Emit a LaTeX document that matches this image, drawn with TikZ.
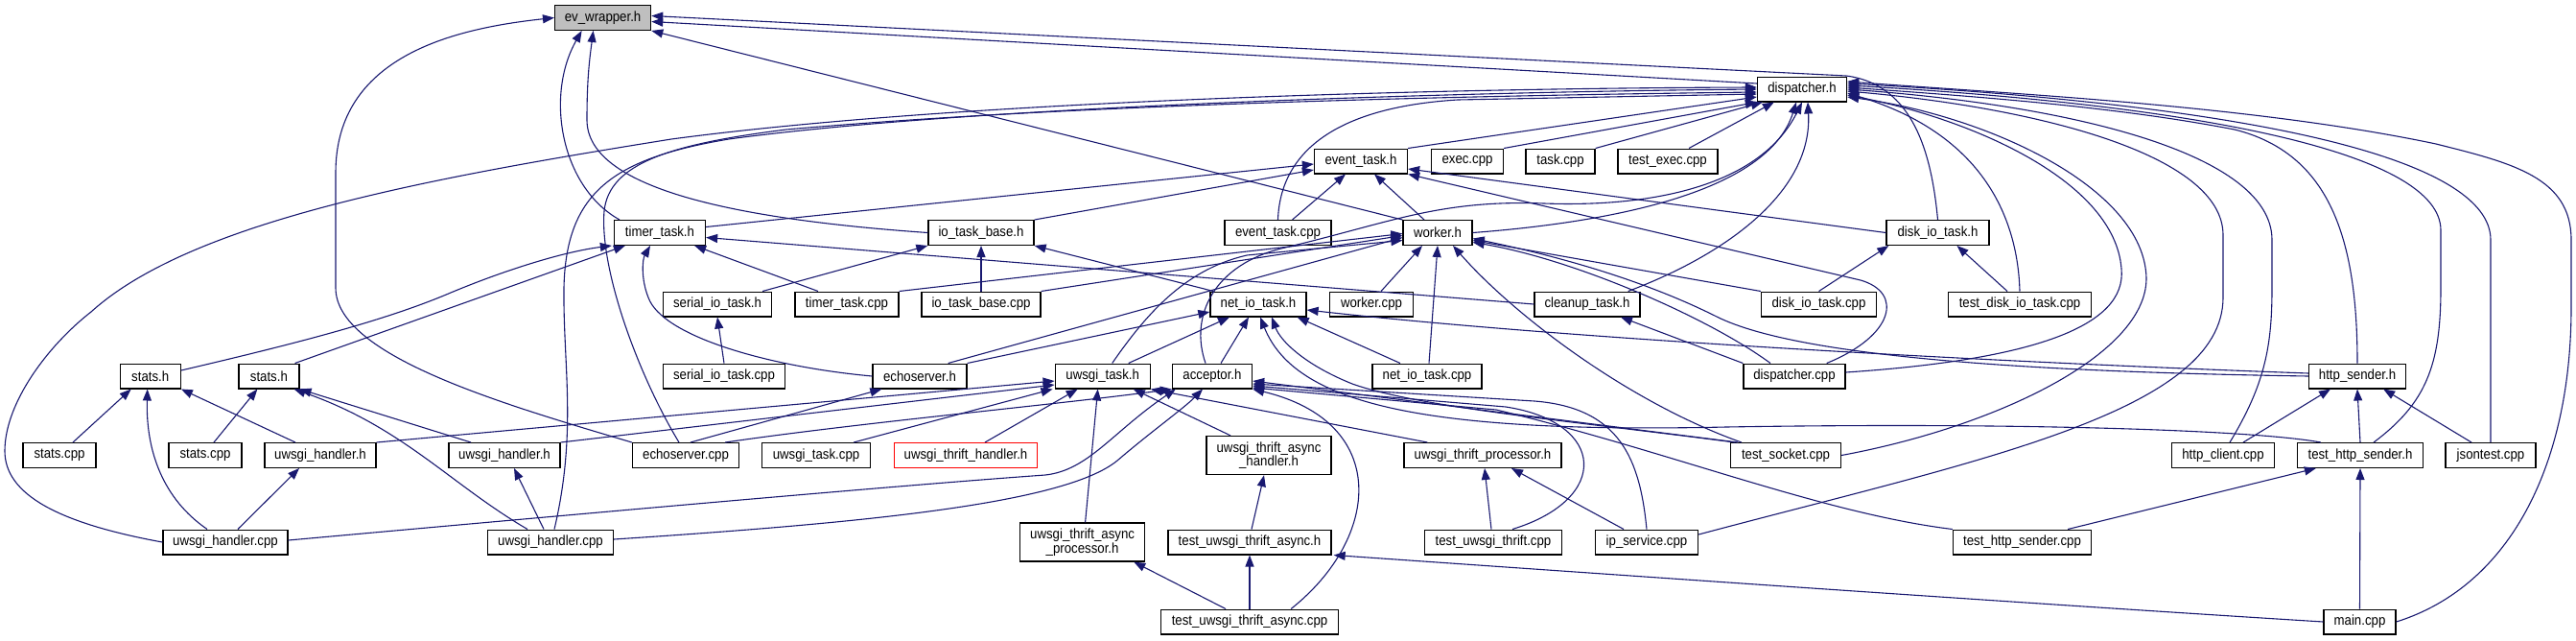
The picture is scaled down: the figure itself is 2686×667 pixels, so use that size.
\documentclass[tikz,border=0pt]{standalone}
\usepackage{fontspec}
\setmainfont{Liberation Sans}[FakeStretch=0.9]
\usetikzlibrary{arrows.meta,calc}
\definecolor{edgec}{RGB}{25,25,112}
\definecolor{hlgray}{RGB}{191,191,191}
\begin{document}
\begin{tikzpicture}[x=1pt,y=-1pt,
  box/.style={draw=black, line width=1.3pt, fill=white, rectangle, inner sep=0pt,
    minimum height=25.7pt, align=center, font=\fontsize{14.7}{13.5}\selectfont},
  dep/.style={draw=edgec, line width=1.1pt, -{Triangle[length=12pt,width=9pt]}}]
\path[use as bounding box] (0,0) rectangle (2686,667);
% ---- nodes
\node[box, fill=hlgray, minimum width=100] (ev) at (628.6,18.5) {ev\_wrapper.h};
\node[box, minimum width=93] (disp) at (1879,93) {dispatcher.h};
\node[box, minimum width=97] (evth) at (1419,168) {event\_task.h};
\node[box, minimum width=75] (execc) at (1530,168) {exec.cpp};
\node[box, minimum width=72] (taskc) at (1627,168) {task.cpp};
\node[box, minimum width=104] (texec) at (1739,168) {test\_exec.cpp};
\node[box, minimum width=95] (timerh) at (688,242.5) {timer\_task.h};
\node[box, minimum width=110] (iobh) at (1023,242.5) {io\_task\_base.h};
\node[box, minimum width=111] (evtc) at (1332.5,242.5) {event\_task.cpp};
\node[box, minimum width=72] (workh) at (1499,242.5) {worker.h};
\node[box, minimum width=107] (diskh) at (2020.5,242.5) {disk\_io\_task.h};
\node[box, minimum width=113] (serialh) at (748,317) {serial\_io\_task.h};
\node[box, minimum width=108] (timerc) at (883,317) {timer\_task.cpp};
\node[box, minimum width=124] (iobc) at (1023,317) {io\_task\_base.cpp};
\node[box, minimum width=100] (neth) at (1312,317) {net\_io\_task.h};
\node[box, minimum width=87] (workc) at (1430,317) {worker.cpp};
\node[box, minimum width=110] (cleanh) at (1655,317) {cleanup\_task.h};
\node[box, minimum width=120] (diskc) at (1896.5,317) {disk\_io\_task.cpp};
\node[box, minimum width=149] (tdiskc) at (2106,317) {test\_disk\_io\_task.cpp};
\node[box, minimum width=63] (statsA) at (156.7,392) {stats.h};
\node[box, minimum width=63] (statsB) at (280.4,392) {stats.h};
\node[box, minimum width=127] (serialc) at (755,392) {serial\_io\_task.cpp};
\node[box, minimum width=98] (echoh) at (959,392) {echoserver.h};
\node[box, minimum width=99] (uwtaskh) at (1149.7,392) {uwsgi\_task.h};
\node[box, minimum width=83] (acch) at (1264,392) {acceptor.h};
\node[box, minimum width=114] (netc) at (1488,392) {net\_io\_task.cpp};
\node[box, minimum width=106] (dispc) at (1871,392) {dispatcher.cpp};
\node[box, minimum width=101] (httph) at (2458,392) {http\_sender.h};
\node[box, minimum width=76] (statscA) at (62,474.5) {stats.cpp};
\node[box, minimum width=76] (statscB) at (214,474.5) {stats.cpp};
\node[box, minimum width=116] (uwhA) at (334,474.5) {uwsgi\_handler.h};
\node[box, minimum width=116] (uwhB) at (526,474.5) {uwsgi\_handler.h};
\node[box, minimum width=111] (echoc) at (715,474.5) {echoserver.cpp};
\node[box, minimum width=113] (uwtaskc) at (851,474.5) {uwsgi\_task.cpp};
\node[box, draw=red, minimum width=149] (uwthh) at (1007,474.5) {uwsgi\_thrift\_handler.h};
\node[box, minimum width=130, minimum height=40] (uwtah) at (1323,474.5) {uwsgi\_thrift\_async\\\_handler.h};
\node[box, minimum width=164] (uwtph) at (1546,474.5) {uwsgi\_thrift\_processor.h};
\node[box, minimum width=115] (tsock) at (1862,474.5) {test\_socket.cpp};
\node[box, minimum width=107] (httpc) at (2318,474.5) {http\_client.cpp};
\node[box, minimum width=131] (thttph) at (2461,474.5) {test\_http\_sender.h};
\node[box, minimum width=94] (jsonc) at (2597,474.5) {jsontest.cpp};
\node[box, minimum width=130] (uwhcA) at (235,565) {uwsgi\_handler.cpp};
\node[box, minimum width=131] (uwhcB) at (574,565) {uwsgi\_handler.cpp};
\node[box, minimum width=130, minimum height=40] (uwtap) at (1128.6,565) {uwsgi\_thrift\_async\\\_processor.h};
\node[box, minimum width=170] (tuwtah) at (1303,565) {test\_uwsgi\_thrift\_async.h};
\node[box, minimum width=143] (tuwtc) at (1557,565) {test\_uwsgi\_thrift.cpp};
\node[box, minimum width=107] (ipc) at (1717,565) {ip\_service.cpp};
\node[box, minimum width=144] (thttpc) at (2108.5,565) {test\_http\_sender.cpp};
\node[box, minimum width=185] (tuwtac) at (1303,648) {test\_uwsgi\_thrift\_async.cpp};
\node[box, minimum width=75] (mainc) at (2460.5,648) {main.cpp};
% ---- edges to ev_wrapper.h
\draw[dep] ($(disp.west)+(0,-6)$) -- ($(ev.east)+(0,4)$);
\draw[dep] (diskh.north) .. controls (2014,160) and (1995,88) .. (1925,79) -- ($(ev.east)+(0,-2)$);
\draw[dep] (workh.north west) -- (ev.south east);
\draw[dep] ($(timerh.north)+(-42,0)$) .. controls (585,195) and (568,100) .. ($(ev.south)+(-22,0)$);
\draw[dep] (iobh.west) .. controls (760,228) and (612,195) .. (612,125) .. controls (612,80) and (615,60) .. ($(ev.south)+(-10,0)$);
\draw[dep] (echoc.north west) .. controls (520,420) and (350,370) .. (350,300) -- (350,180) .. controls (350,60) and (470,30) .. (ev.west);
% ---- edges to dispatcher.h
\draw[dep] (evth.north east) -- ($(disp.west)+(0,8)$);
\draw[dep] (execc.north east) -- (disp.south west);
\draw[dep] (taskc.north east) -- ($(disp.south west)+(6,0)$);
\draw[dep] ($(texec.north)+(22,0)$) -- ($(disp.south west)+(18,0)$);
\draw[dep] (evtc.north) .. controls (1335,160) and (1390,112) .. (1520,104) -- ($(disp.west)+(0,5)$);
\draw[dep] (workh.east) .. controls (1700,230) and (1845,195) .. ($(disp.south)+(-6,0)$);
\draw[dep] ($(acch.north)+(-7,0)$) .. controls (1240,330) and (1265,275) .. (1340,258) .. controls (1450,232) and (1500,208) .. (1610,212) .. controls (1720,216) and (1835,195) .. ($(disp.south)+(0,0)$);
\draw[dep] ($(cleanh.north east)+(-13,0)$) .. controls (1800,265) and (1890,200) .. ($(disp.south)+(6,0)$);
\draw[dep] (uwhcA.west) .. controls (60,545) and (5,515) .. (5,470) .. controls (5,420) and (50,360) .. (95,325) .. controls (200,230) and (450,185) .. (700,145) .. controls (1000,105) and (1500,92) .. ($(disp.west)+(0,-2)$);
\draw[dep] ($(uwhcB.north)+(4,0)$) .. controls (602,450) and (587,380) .. (588,300) .. controls (590,200) and (640,165) .. (760,145) .. controls (1000,112) and (1500,96) .. ($(disp.west)+(0,0)$);
\draw[dep] ($(echoc.north)+(-7,0)$) .. controls (665,390) and (625,280) .. (630,220) .. controls (635,170) and (700,150) .. (820,135) .. controls (1100,110) and (1500,100) .. ($(disp.west)+(0,3)$);
\draw[dep] (tdiskc.north) .. controls (2104,230) and (2070,140) .. ($(disp.east)+(0,4)$);
\draw[dep] ($(dispc.east)+(0,-4)$) .. controls (2120,375) and (2218,340) .. (2212,280) .. controls (2205,190) and (2060,125) .. ($(disp.east)+(0,6)$);
\draw[dep] (tsock.east) .. controls (2080,445) and (2238,370) .. (2238,290) .. controls (2236,195) and (2070,120) .. ($(disp.east)+(0,8)$);
\draw[dep] ($(ipc.east)+(0,-8)$) .. controls (2060,480) and (2318,430) .. (2318,310) -- (2318,245) .. controls (2318,160) and (2120,112) .. ($(disp.east)+(0,2)$);
\draw[dep] ($(httpc.north)+(7,0)$) .. controls (2362,400) and (2369,360) .. (2369,300) -- (2369,250) .. controls (2369,160) and (2160,110) .. ($(disp.east)+(0,0)$);
\draw[dep] (httph.north) .. controls (2458,250) and (2430,160) .. (2330,135) .. controls (2200,110) and (2050,100) .. ($(disp.east)+(0,-2)$);
\draw[dep] ($(thttph.north)+(14,0)$) .. controls (2530,420) and (2545,380) .. (2545,300) -- (2545,240) .. controls (2545,160) and (2300,110) .. ($(disp.east)+(0,-4)$);
\draw[dep] (jsonc.north) -- (2597,250) .. controls (2597,165) and (2350,110) .. ($(disp.east)+(0,-6)$);
\draw[dep] (mainc.east) .. controls (2620,610) and (2681,480) .. (2681,320) -- (2681,250) .. controls (2681,185) and (2620,170) .. (2540,150) .. controls (2350,110) and (2100,98) .. ($(disp.east)+(0,-8)$);
% ---- edges to event_task.h
\draw[dep] ($(timerh.east)+(0,-6)$) -- ($(evth.west)+(0,3)$);
\draw[dep] (iobh.north east) -- ($(evth.west)+(0,9)$);
\draw[dep] ($(evtc.north)+(15,0)$) -- ($(evth.south)+(-16,0)$);
\draw[dep] ($(workh.north)+(-14,0)$) -- ($(evth.south)+(14,0)$);
\draw[dep] (diskh.west) -- ($(evth.east)+(0,8)$);
\draw[dep] ($(dispc.north east)+(-20,0)$) .. controls (1975,350) and (1985,305) .. (1940,292) -- (evth.south east);
% ---- edges to worker.h
\draw[dep] ($(workc.north)+(10,0)$) -- ($(workh.south)+(-16,0)$);
\draw[dep] ($(netc.north)+(2,0)$) -- ($(workh.south)+(0,0)$);
\draw[dep] ($(tsock.north west)+(12,0)$) .. controls (1700,420) and (1580,330) .. ($(workh.south)+(16,0)$);
\draw[dep] (diskc.north west) -- ($(workh.east)+(0,8)$);
\draw[dep] ($(dispc.north)+(-25,0)$) .. controls (1780,330) and (1640,270) .. ($(workh.east)+(0,10)$);
\draw[dep] (httph.west) .. controls (2150,388) and (1880,375) .. (1790,330) .. controls (1700,285) and (1600,262) .. ($(workh.east)+(0,6)$);
\draw[dep] ($(uwtaskh.north)+(10,0)$) .. controls (1200,320) and (1240,280) .. (1300,266) -- ($(workh.west)+(0,8)$);
\draw[dep] ($(echoh.north east)+(-20,0)$) -- ($(workh.west)+(0,5)$);
\draw[dep] (timerc.north east) -- ($(workh.west)+(0,1)$);
\draw[dep] (iobc.north east) -- ($(workh.west)+(0,3)$);
% ---- edges to timer_task.h
\draw[dep] ($(timerc.north)+(-30,0)$) -- ($(timerh.south east)+(-12,0)$);
\draw[dep] ($(statsA.east)+(0,-6)$) .. controls (300,360) and (400,335) .. (470,305) .. controls (530,280) and (590,262) .. ($(timerh.south west)+(-2,0)$);
\draw[dep] ($(statsB.north east)+(-5,0)$) -- ($(timerh.south west)+(12,0)$);
\draw[dep] (echoh.west) .. controls (800,382) and (690,350) .. (676,310) .. controls (668,290) and (670,270) .. ($(timerh.south)+(-10,0)$);
\draw[dep] (cleanh.west) -- ($(timerh.east)+(0,5)$);
% ---- io_task_base.h, serial_io_task.h
\draw[dep] ($(serialh.north east)+(-10,0)$) -- (iobh.south west);
\draw[dep] (iobc.north) -- (iobh.south);
\draw[dep] ($(neth.north west)+(4,0)$) -- (iobh.south east);
\draw[dep] (serialc.north) -- (serialh.south);
% ---- net_io_task.h
\draw[dep] (echoh.north east) -- ($(neth.west)+(0,8)$);
\draw[dep] ($(uwtaskh.north)+(27,0)$) -- ($(neth.south)+(-30,0)$);
\draw[dep] ($(acch.north)+(9,0)$) -- ($(neth.south)+(-10,0)$);
\draw[dep] ($(netc.north)+(-28,0)$) -- ($(neth.south east)+(-10,0)$);
\draw[dep] ($(tsock.north west)+(5,0)$) .. controls (1650,440) and (1480,425) .. (1410,400) .. controls (1360,380) and (1335,355) .. ($(neth.south)+(14,0)$);
\draw[dep] ($(httph.west)+(0,-3)$) .. controls (2100,378) and (1650,355) .. ($(neth.east)+(0,6)$);
\draw[dep] ($(thttph.north west)+(25,0)$) .. controls (2350,448) and (2100,440) .. (1800,445) .. controls (1480,452) and (1350,420) .. ($(neth.south)+(2,0)$);
% ---- uwsgi_task.h
\draw[dep] ($(uwtaskc.north east)+(-18,0)$) -- ($(uwtaskh.south west)+(-2,0)$);
\draw[dep] ($(uwthh.north)+(20,0)$) -- ($(uwtaskh.south)+(-26,0)$);
\draw[dep] ($(uwtap.north)+(3,0)$) -- ($(uwtaskh.south)+(-5,0)$);
\draw[dep] ($(uwtah.north)+(-40,0)$) -- ($(uwtaskh.south)+(32,0)$);
\draw[dep] ($(uwtph.north west)+(25,0)$) -- (uwtaskh.south east);
\draw[dep] (uwhA.north east) -- ($(uwtaskh.west)+(0,5)$);
\draw[dep] (uwhB.north east) -- ($(uwtaskh.west)+(0,9)$);
% ---- echoserver.h
\draw[dep] ($(echoc.north)+(5,0)$) -- ($(echoh.south west)+(10,0)$);
% ---- acceptor.h
\draw[dep] ($(echoc.north east)+(-15,0)$) .. controls (900,440) and (1100,422) .. (acch.south west);
\draw[dep] ($(uwhcA.east)+(0,-2)$) .. controls (700,527) and (950,505) .. (1090,495) .. controls (1135,490) and (1160,450) .. ($(acch.south west)+(4,0)$);
\draw[dep] ($(uwhcB.east)+(0,-3)$) .. controls (900,545) and (1110,525) .. (1165,480) .. controls (1200,450) and (1235,425) .. ($(acch.south)+(-10,0)$);
\draw[dep] ($(tsock.north west)+(8,0)$) -- ($(acch.east)+(0,5)$);
\draw[dep] (ipc.north) .. controls (1710,480) and (1690,425) .. (1600,418) -- ($(acch.east)+(0,8)$);
\draw[dep] ($(tuwtc.north)+(20,0)$) .. controls (1680,520) and (1675,440) .. (1570,424) -- ($(acch.east)+(0,10)$);
\draw[dep] (thttpc.north west) .. controls (1900,535) and (1740,470) .. (1560,427) -- ($(acch.east)+(0,12)$);
\draw[dep] ($(tuwtac.north east)+(-50,0)$) .. controls (1440,560) and (1450,440) .. (acch.south east);
% ---- thrift
\draw[dep] ($(tuwtac.north)+(-25,0)$) -- ($(uwtap.south east)+(-12,0)$);
\draw[dep] (tuwtac.north) -- (tuwtah.south);
\draw[dep] ($(tuwtah.north)+(2,0)$) -- ($(uwtah.south)+(-5,0)$);
\draw[dep] (mainc.west) .. controls (2100,628) and (1700,600) .. ($(tuwtah.south east)+(2,0)$);
\draw[dep] ($(tuwtc.north)+(-2,0)$) -- ($(uwtph.south)+(2,0)$);
\draw[dep] ($(ipc.north)+(-24,0)$) -- ($(uwtph.south)+(30,0)$);
% ---- http
\draw[dep] ($(thttpc.north east)+(-25,0)$) -- ($(thttph.south west)+(20,0)$);
\draw[dep] (mainc.north) -- (thttph.south);
\draw[dep] ($(httpc.north)+(21,0)$) -- ($(httph.south)+(-28,0)$);
\draw[dep] (thttph.north) -- (httph.south);
\draw[dep] ($(jsonc.north)+(-20,0)$) -- ($(httph.south east)+(-24,0)$);
% ---- disk, cleanup
\draw[dep] (diskc.north) -- ($(diskh.south west)+(3,0)$);
\draw[dep] ($(tdiskc.north)+(-13,0)$) -- ($(diskh.south)+(20,0)$);
\draw[dep] (dispc.north west) -- ($(cleanh.south)+(35,0)$);
% ---- stats, handlers
\draw[dep] ($(statscA.north)+(14,0)$) -- ($(statsA.south)+(-20,0)$);
\draw[dep] ($(uwhcA.north)+(-19,0)$) .. controls (170,520) and (152,470) .. ($(statsA.south)+(-3,0)$);
\draw[dep] ($(uwhA.north)+(-26,0)$) -- (statsA.south east);
\draw[dep] ($(statscB.north)+(9,0)$) -- ($(statsB.south)+(-12,0)$);
\draw[dep] ($(uwhB.north)+(-35,0)$) -- (statsB.south east);
\draw[dep] ($(uwhcB.north)+(-24,0)$) .. controls (470,505) and (420,445) .. ($(statsB.south east)+(-6,0)$);
\draw[dep] ($(uwhcA.north)+(13,0)$) -- ($(uwhA.south)+(-22,0)$);
\draw[dep] ($(uwhcB.north)+(-7,0)$) -- ($(uwhB.south)+(10,0)$);
\end{tikzpicture}
\end{document}
